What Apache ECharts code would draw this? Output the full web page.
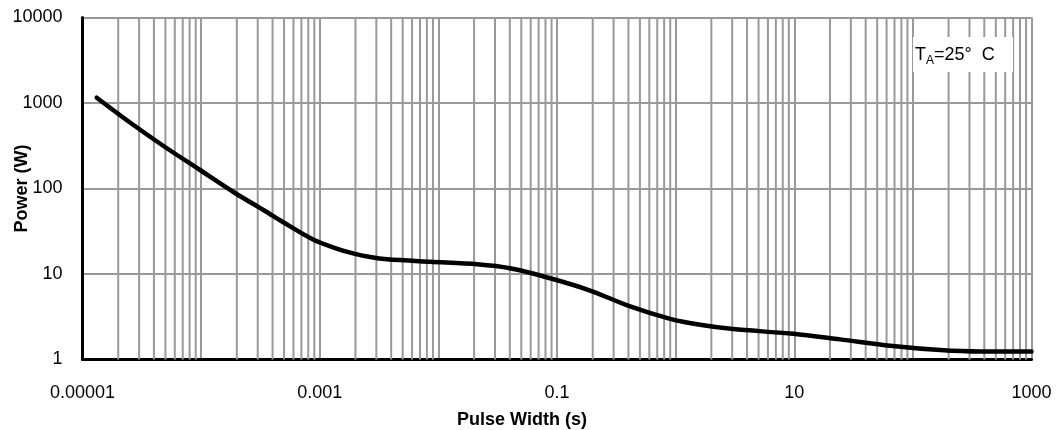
<!DOCTYPE html>
<html>
<head>
<meta charset="utf-8">
<style>
html,body{margin:0;padding:0;background:#fff;}
#chart{width:1059px;height:430px;}
</style>
<script src="https://cdn.jsdelivr.net/npm/echarts@6/dist/echarts.min.js"></script>
</head>
<body>
<div id="chart"></div>
<script>
// Data
const pulseWidth = [1.318e-5, 2.515e-5, 4.96e-5, 9.79e-5, 1.931e-4, 3.457e-4, 4.81e-4, 8.78e-4, 1.346e-3, 1.909e-3, 2.655e-3, 3.694e-3, 8.51e-3, 0.0212, 0.0402, 0.0875, 0.190, 0.4135, 0.899, 1.609, 3.053, 9.235, 24.38, 64.4, 169.9, 369.4, 1000];
const power      = [1153,     591.5,    305.8,   164.6,   88.6,     54.6,     41.1,    25.3,    20.1,     17.4,     15.8,     14.86,    13.89,   12.99,  11.66,  8.91,   6.41,  4.17,   2.99,  2.55,  2.27,  2.01,  1.72,  1.45, 1.29,  1.24,  1.24];
const xTickLabels = ['0.00001', '0.001', '0.1', '10', '1000'];
const yTickLabels = ['1', '10', '100', '1000', '10000'];
const xMin = 1e-5, xMax = 1000, yMin = 1, yMax = 10000;

const FONT = '"Liberation Sans", Arial, sans-serif';
const GRID = '#999999';

// minor vertical gridlines (2..9 x each decade), drawn as broken line segments
const minorGrid = [];
for (let d = -5; d < 3; d++) {
  for (let k = 2; k <= 9; k++) {
    const v = k * Math.pow(10, d);
    minorGrid.push([v, yMin], [v, yMax], ['-', '-']);
  }
}

const xLabelMap = {};
xTickLabels.forEach(s => { xLabelMap[Math.round(Math.log10(parseFloat(s)))] = s; });
const yLabelMap = {};
yTickLabels.forEach(s => { yLabelMap[Math.round(Math.log10(parseFloat(s)))] = s; });

const chart = echarts.init(document.getElementById('chart'), null, { renderer: 'canvas' });
chart.setOption({
  animation: false,
  backgroundColor: '#ffffff',
  grid: { left: 82.5, right: 27.5, top: 17.5, bottom: 70.5, containLabel: false, outerBoundsMode: 'none' },
  xAxis: {
    type: 'log', logBase: 10, min: xMin, max: xMax, splitNumber: 8,
    name: 'Pulse Width (s)', nameLocation: 'middle', nameGap: 52, nameMoveOverlap: false,
    nameTextStyle: { fontFamily: FONT, fontSize: 18, fontWeight: 'bold', color: '#000', padding: [0, 70, 0, 0] },
    axisLine: { show: true, onZero: false, lineStyle: { color: '#000', width: 3 } },
    axisTick: { show: false },
    axisLabel: {
      fontFamily: FONT, fontSize: 18, color: '#000', margin: 25,
      formatter: v => { const e = Math.round(Math.log10(v)); return xLabelMap[e] !== undefined ? xLabelMap[e] : ''; }
    },
    splitLine: { show: true, lineStyle: { color: GRID, width: 2 } }
  },
  yAxis: {
    type: 'log', logBase: 10, min: yMin, max: yMax, splitNumber: 4,
    name: 'Power (W)', nameLocation: 'middle', nameGap: 51, nameMoveOverlap: false,
    nameTextStyle: { fontFamily: FONT, fontSize: 18, fontWeight: 'bold', color: '#000' },
    axisLine: { show: true, onZero: false, lineStyle: { color: '#000', width: 3 } },
    axisTick: { show: false },
    axisLabel: {
      fontFamily: FONT, fontSize: 18, color: '#000', margin: 20,
      formatter: v => { const e = Math.round(Math.log10(v)); return yLabelMap[e] !== undefined ? yLabelMap[e] : ''; }
    },
    splitLine: { show: true, lineStyle: { color: GRID, width: 2 } }
  },
  series: [
    {
      type: 'line', data: minorGrid, z: 1, silent: true,
      showSymbol: false, symbol: 'none', connectNulls: false,
      lineStyle: { color: GRID, width: 2 },
      emphasis: { disabled: true }
    },
    {
      type: 'line', z: 5,
      data: pulseWidth.map((x, i) => [x, power[i]]),
      smooth: 0.3, showSymbol: false, symbol: 'none',
      lineStyle: { color: '#000', width: 4.5, cap: 'round', join: 'round' }
    }
  ],
  graphic: [
    {
      type: 'rect', left: 913, top: 37, z: 10,
      shape: { width: 100, height: 35 },
      style: { fill: '#ffffff' }
    },
    {
      type: 'text', left: 915, top: 46, z: 11,
      style: {
        text: '{t|T}{s|A}{t|=25°  C}',
        rich: {
          t: { fontFamily: FONT, fontSize: 18, fill: '#000', verticalAlign: 'bottom' },
          s: { fontFamily: FONT, fontSize: 12, fill: '#000', verticalAlign: 'bottom', padding: [0, 0, -3, 0] }
        }
      }
    }
  ]
});
</script>
</body>
</html>
